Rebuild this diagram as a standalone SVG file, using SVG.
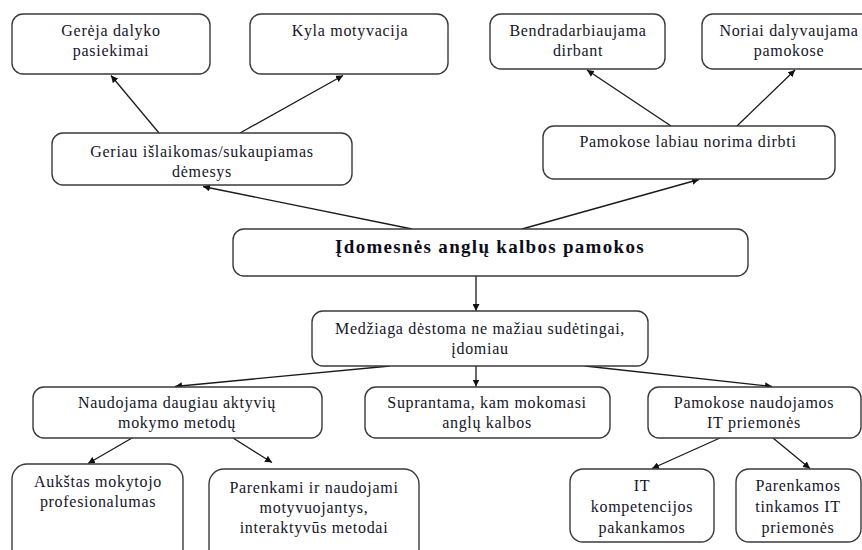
<svg xmlns="http://www.w3.org/2000/svg" width="862" height="550" viewBox="0 0 862 550">
  <style>
    .box { fill: #ffffff; stroke: #3a3a3a; stroke-width: 1.4; }
    .lbl { font-family: "Liberation Serif", "Times New Roman", serif; font-size: 16px; letter-spacing: 0.7px; fill: #141428; text-anchor: middle; }
    .title { font-family: "Liberation Serif", "Times New Roman", serif; font-size: 19px; font-weight: bold; letter-spacing: 1.3px; fill: #0d0d1a; text-anchor: middle; }
    .edge { stroke: #1a1a1a; stroke-width: 1.3; fill: none; marker-end: url(#arrow); }
    .plain { stroke: #1a1a1a; stroke-width: 1.3; fill: none; }
  </style>
  <defs>
    <marker id="arrow" viewBox="0 0 10 10" refX="10" refY="5" markerWidth="7" markerHeight="7" markerUnits="userSpaceOnUse" orient="auto">
      <path d="M0,0 L10,5 L0,10 z" fill="#111"/>
    </marker>
  </defs>
  <rect width="862" height="550" fill="#ffffff"/>

  <!-- connectors -->
  <g id="connectors">
    <!-- root to upper branches -->
    <line class="edge" x1="412" y1="229" x2="203" y2="186.5"/>
    <line class="edge" x1="522" y1="229" x2="699" y2="179.5"/>
    <!-- left upper branch -->
    <line class="edge" x1="159" y1="133" x2="111" y2="75.5"/>
    <line class="edge" x1="240" y1="133" x2="343" y2="75.5"/>
    <!-- right upper branch -->
    <line class="edge" x1="671" y1="126" x2="587" y2="70"/>
    <line class="edge" x1="737" y1="126" x2="795" y2="70"/>
    <!-- root to material -->
    <line class="edge" x1="476" y1="276" x2="476" y2="311"/>
    <!-- material to three children -->
    <line class="edge" x1="390" y1="366" x2="175" y2="386.5"/>
    <line class="edge" x1="476" y1="366" x2="476" y2="386.5"/>
    <line class="edge" x1="585" y1="366" x2="772" y2="386.5"/>
    <!-- active methods children -->
    <line class="edge" x1="132" y1="438" x2="88" y2="463.5"/>
    <line class="edge" x1="233" y1="438" x2="272" y2="462.5"/>
    <!-- IT tools children -->
    <line class="edge" x1="720" y1="438" x2="652" y2="468.5"/>
    <line class="edge" x1="773" y1="438" x2="810" y2="468.5"/>
  </g>

  <!-- top row -->
  <g id="n-pasiekimai">
    <rect class="box" x="12" y="14" width="198" height="60" rx="11"/>
    <text class="lbl" x="111" y="36">Gerėja dalyko</text>
    <text class="lbl" x="111" y="56">pasiekimai</text>
  </g>
  <g id="n-motyvacija">
    <rect class="box" x="250" y="14" width="198" height="60" rx="11"/>
    <text class="lbl" x="350" y="36">Kyla motyvacija</text>
  </g>
  <g id="n-bendradarbiaujama">
    <rect class="box" x="490" y="14" width="175" height="55" rx="11"/>
    <text class="lbl" x="578" y="36">Bendradarbiaujama</text>
    <text class="lbl" x="578" y="56">dirbant</text>
  </g>
  <g id="n-noriai">
    <rect class="box" x="702" y="14" width="174" height="55" rx="11"/>
    <text class="lbl" x="789" y="36">Noriai dalyvaujama</text>
    <text class="lbl" x="789" y="56">pamokose</text>
  </g>

  <!-- second row -->
  <g id="n-demesys">
    <rect class="box" x="52" y="133" width="300" height="52" rx="11"/>
    <text class="lbl" x="202" y="157">Geriau išlaikomas/sukaupiamas</text>
    <text class="lbl" x="202" y="177">dėmesys</text>
  </g>
  <g id="n-dirbti">
    <rect class="box" x="543" y="126" width="292" height="53" rx="11"/>
    <text class="lbl" x="688" y="147">Pamokose labiau norima dirbti</text>
  </g>

  <!-- root -->
  <g id="n-root">
    <rect class="box" x="233" y="229" width="515" height="47" rx="11"/>
    <text class="title" x="490" y="253">Įdomesnės anglų kalbos pamokos</text>
  </g>

  <!-- material -->
  <g id="n-medziaga">
    <rect class="box" x="312" y="311" width="336" height="55" rx="11"/>
    <text class="lbl" x="480" y="334">Medžiaga dėstoma ne mažiau sudėtingai,</text>
    <text class="lbl" x="480" y="354">įdomiau</text>
  </g>

  <!-- third row -->
  <g id="n-aktyvus">
    <rect class="box" x="33" y="387" width="289" height="51" rx="11"/>
    <text class="lbl" x="177" y="408">Naudojama daugiau aktyvių</text>
    <text class="lbl" x="177" y="428">mokymo metodų</text>
  </g>
  <g id="n-suprantama">
    <rect class="box" x="365" y="387" width="245" height="51" rx="11"/>
    <text class="lbl" x="487" y="408">Suprantama, kam mokomasi</text>
    <text class="lbl" x="487" y="428">anglų kalbos</text>
  </g>
  <g id="n-it">
    <rect class="box" x="648" y="387" width="213" height="51" rx="11"/>
    <text class="lbl" x="754" y="408">Pamokose naudojamos</text>
    <text class="lbl" x="754" y="428">IT priemonės</text>
  </g>

  <!-- bottom row -->
  <g id="n-profesionalumas">
    <rect class="box" x="12" y="464" width="171" height="100" rx="15"/>
    <text class="lbl" x="98" y="487">Aukštas mokytojo</text>
    <text class="lbl" x="98" y="507">profesionalumas</text>
  </g>
  <g id="n-metodai">
    <rect class="box" x="209" y="469" width="210" height="95" rx="15"/>
    <text class="lbl" x="314" y="493">Parenkami ir naudojami</text>
    <text class="lbl" x="314" y="513">motyvuojantys,</text>
    <text class="lbl" x="314" y="533">interaktyvūs metodai</text>
  </g>
  <g id="n-kompetencijos">
    <rect class="box" x="570" y="469" width="144" height="73" rx="13"/>
    <text class="lbl" x="642" y="491">IT</text>
    <text class="lbl" x="642" y="512">kompetencijos</text>
    <text class="lbl" x="642" y="533">pakankamos</text>
  </g>
  <g id="n-tinkamos">
    <rect class="box" x="736" y="469" width="125" height="73" rx="13"/>
    <text class="lbl" x="798" y="491">Parenkamos</text>
    <text class="lbl" x="798" y="512">tinkamos IT</text>
    <text class="lbl" x="798" y="533">priemonės</text>
  </g>
</svg>
